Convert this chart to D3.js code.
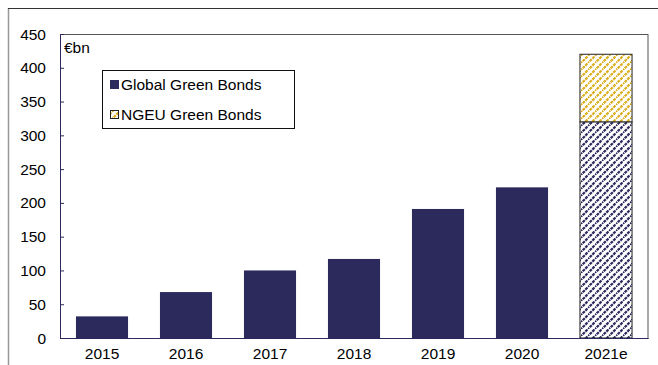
<!DOCTYPE html>
<html><head><meta charset="utf-8">
<script src="https://cdn.jsdelivr.net/npm/d3@7"></script>
<style>body{margin:0;background:#fff}svg{display:block}text{font-family:"Liberation Sans",Arial,sans-serif}</style>
</head><body>
<script>
const categories = ["2015","2016","2017","2018","2019","2020","2021e"];
const globalGreen = [32, 68, 100, 117, 191, 223, 320];
const ngeuGreen = [0, 0, 0, 0, 0, 0, 100];
const estimated = [false,false,false,false,false,false,true];
const yTicks = [0,50,100,150,200,250,300,350,400,450];
const seriesNames = ["Global Green Bonds","NGEU Green Bonds"];

const W=658,H=365, FS=15.5, FF="Liberation Sans, Arial, sans-serif";
const svg=d3.select("body").append("svg").attr("width",W).attr("height",H);
const navy="#2c295c", gold="#dcae1e";
const defs=svg.append("defs");
function hatch(id,color){
  const p=defs.append("pattern").attr("id",id).attr("patternUnits","userSpaceOnUse").attr("width",7).attr("height",7);
  p.append("rect").attr("width",7).attr("height",7).attr("fill","#fff");
  p.append("path").attr("d","M-1,8 L8,-1 M-2,1 L1,-2 M6,9 L9,6").attr("stroke",color).attr("stroke-width",2.2).attr("stroke-dasharray","3,0.8");
}
hatch("hN",navy); hatch("hG",gold);

// outer frame
svg.append("line").attr("x1",8.5).attr("x2",8.5).attr("y1",8).attr("y2",H).attr("stroke","#999").attr("stroke-width",1.5);
svg.append("line").attr("x1",8).attr("x2",W).attr("y1",8.5).attr("y2",8.5).attr("stroke","#333");

const m={l:60,r:648,t:34,b:338};
const x=d3.scaleBand().domain(categories).range([m.l,m.r]).paddingInner(0.38).paddingOuter(0.19);
const y=d3.scaleLinear().domain([0,450]).range([m.b,m.t]);

// plot box
svg.append("rect").attr("x",m.l+0.5).attr("y",m.t+0.5).attr("width",m.r-m.l-0.5).attr("height",m.b-m.t).attr("fill","none").attr("stroke","#555");

// bars
const g=svg.append("g");
categories.forEach((c,i)=>{
  const est=estimated[i];
  g.append("rect").attr("x",x(c)).attr("width",x.bandwidth()).attr("y",y(globalGreen[i])).attr("height",y(0)-y(globalGreen[i]))
    .attr("fill",est?"url(#hN)":navy).attr("stroke",est?"#222":"none");
  if(ngeuGreen[i]>0){
    g.append("rect").attr("x",x(c)).attr("width",x.bandwidth()).attr("y",y(globalGreen[i]+ngeuGreen[i])).attr("height",y(globalGreen[i])-y(globalGreen[i]+ngeuGreen[i]))
      .attr("fill","url(#hG)").attr("stroke","#222");
  }
});

// axes
const ya=svg.append("g").attr("transform",`translate(${m.l},0)`).call(d3.axisRight(y).tickValues(yTicks).tickSize(4).tickFormat(""));
ya.select(".domain").attr("stroke",navy);
ya.selectAll(".tick line").attr("stroke",navy);
svg.append("g").selectAll("text").data(yTicks).join("text").attr("x",46).attr("y",d=>y(d)).attr("dy","0.36em").attr("text-anchor","end")
  .attr("font-family",FF).attr("font-size",FS).text(d=>d);
const xa=svg.append("g").attr("transform",`translate(0,${m.b})`).attr("font-family",FF).call(d3.axisBottom(x).tickSize(0).tickPadding(10));
xa.select(".domain").attr("stroke",navy);
xa.selectAll("text").attr("font-size",FS).attr("fill","#000").attr("font-family",FF).attr("dy","0.71em");

svg.append("text").attr("x",64).attr("y",53).attr("font-family",FF).attr("font-size",FS).text("€bn");

// legend
svg.append("rect").attr("x",102.5).attr("y",70.5).attr("width",192).attr("height",58).attr("fill","#fff").attr("stroke","#111");
svg.append("rect").attr("x",110).attr("y",80).attr("width",9).attr("height",9).attr("fill",navy);
svg.append("rect").attr("x",110.5).attr("y",110.5).attr("width",8).attr("height",8).attr("fill","url(#hG)").attr("stroke","#222");
svg.append("text").attr("x",121).attr("y",90).attr("font-family",FF).attr("font-size",FS).text(seriesNames[0]);
svg.append("text").attr("x",121).attr("y",120).attr("font-family",FF).attr("font-size",FS).text(seriesNames[1]);
</script>
</body></html>
